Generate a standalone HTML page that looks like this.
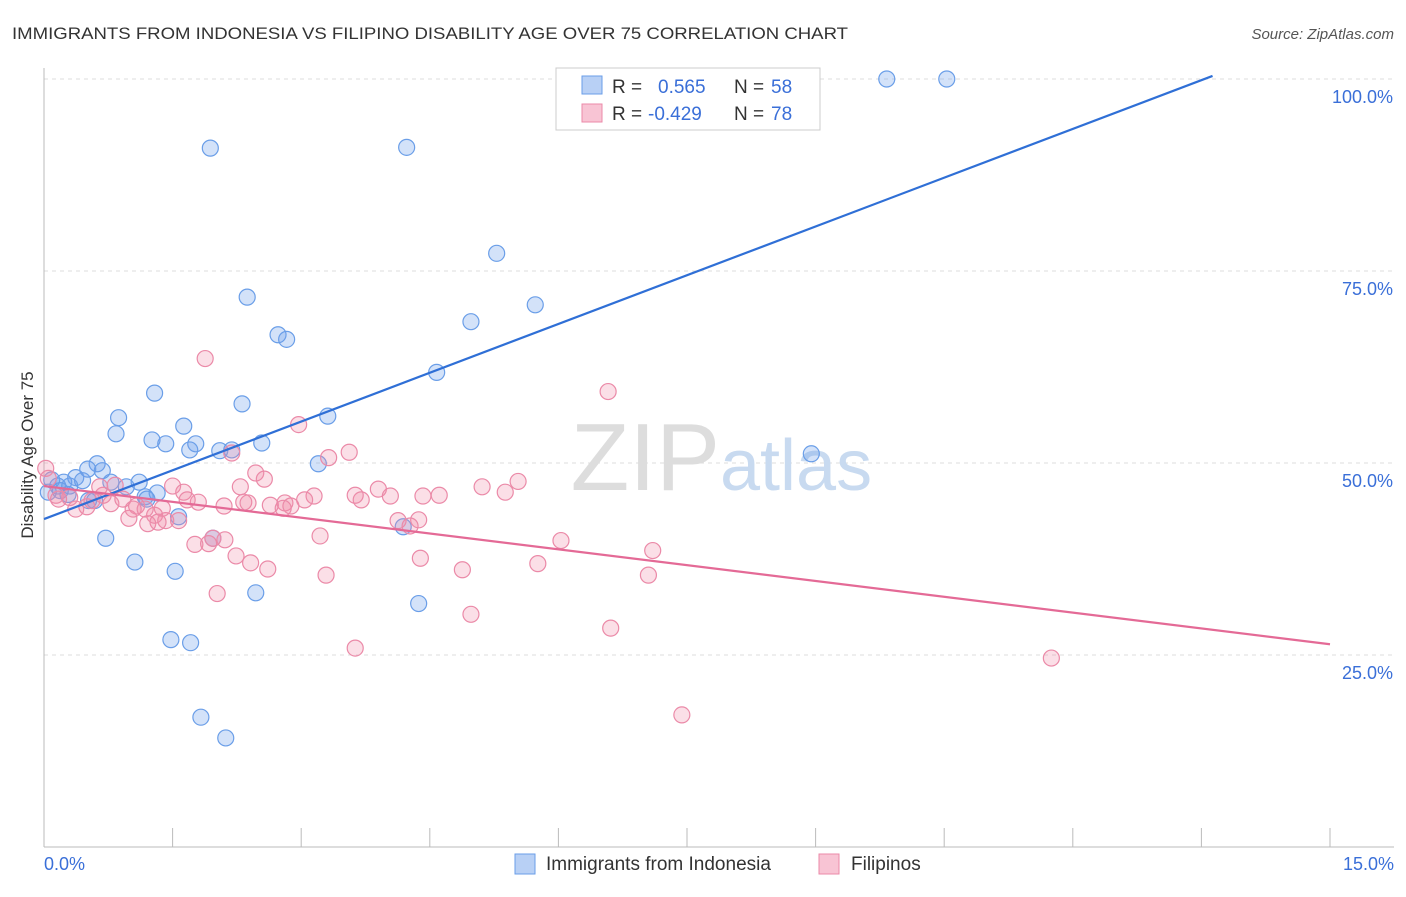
<!DOCTYPE html>
<html><head><meta charset="utf-8"><style>
body{margin:0;background:#fff;font-family:"Liberation Sans",sans-serif;}
svg text{font-family:"Liberation Sans",sans-serif;}
</style></head><body>
<svg id="chart" width="1406" height="892">
<text x="12" y="39" font-size="17" fill="#333" textLength="836" lengthAdjust="spacingAndGlyphs">IMMIGRANTS FROM INDONESIA VS FILIPINO DISABILITY AGE OVER 75 CORRELATION CHART</text>
<text x="1394" y="39" font-size="15" fill="#555" font-style="italic" text-anchor="end">Source: ZipAtlas.com</text>
<g id="grid"></g>
<text x="720" y="490" font-size="96" fill="#ddd" text-anchor="end" font-family="Liberation Serif">ZIP</text>
<text x="720" y="490" font-size="72" fill="#c8daf0">atlas</text>
<g id="axes"></g>
<g id="pts"></g>
<g id="lines"></g>
<text transform="translate(33,455) rotate(-90)" font-size="17" fill="#333" text-anchor="middle">Disability Age Over 75</text>
<text x="44" y="870" font-size="18" fill="#3a6fd8">0.0%</text>
<text x="1394" y="870" font-size="18" fill="#3a6fd8" text-anchor="end">15.0%</text>
<g>
<rect x="556" y="68" width="264" height="62" fill="#fff" stroke="#ccc"/>
<rect x="582" y="76" width="20" height="18" fill="#b8d0f5" stroke="#6a9ee8"/>
<rect x="582" y="104" width="20" height="18" fill="#f8c4d4" stroke="#eb8aa8"/>
<text x="612" y="93" font-size="19" fill="#333">R =</text>
<text x="658" y="93" font-size="19" fill="#3a6fd8">0.565</text>
<text x="734" y="93" font-size="19" fill="#333">N =</text>
<text x="771" y="93" font-size="19" fill="#3a6fd8">58</text>
<text x="612" y="120" font-size="19" fill="#333">R =</text>
<text x="648" y="120" font-size="19" fill="#3a6fd8">-0.429</text>
<text x="734" y="120" font-size="19" fill="#333">N =</text>
<text x="771" y="120" font-size="19" fill="#3a6fd8">78</text>
</g>
<g>
<rect x="515" y="854" width="20" height="20" fill="#b8d0f5" stroke="#6a9ee8"/>
<text x="546" y="870" font-size="19" fill="#333">Immigrants from Indonesia</text>
<rect x="819" y="854" width="20" height="20" fill="#f8c4d4" stroke="#eb8aa8"/>
<text x="851" y="870" font-size="19" fill="#333">Filipinos</text>
</g>
</svg>
<script>
const yTicks=[25,50,75,100];
const xTicks=[0,1.5,3,4.5,6,7.5,9,10.5,12,13.5,15];
const blueX=[9.83,10.53,1.94,4.23,5.28,2.37,4.98,5.73,2.73,2.83,4.58,1.29,0.87,0.84,2.31,1.63,1.26,1.42,1.77,1.70,2.05,2.19,2.54,3.31,3.20,8.95,0.62,0.51,0.68,0.37,0.23,0.78,1.11,0.96,0.16,0.09,0.05,0.28,0.52,1.18,1.32,1.57,4.19,0.72,1.97,1.06,1.53,2.47,4.37,1.48,1.71,1.83,2.12,0.59,0.19,0.30,0.45,1.20];
const blueY=[100,100,91.0,91.1,77.3,71.6,68.4,70.6,66.7,66.1,61.8,59.1,55.9,53.8,57.7,54.8,53.0,52.5,52.5,51.7,51.6,51.7,52.6,56.1,49.9,51.2,49.9,49.2,49.0,48.1,47.5,47.5,47.5,46.9,47.0,47.8,46.2,45.9,45.1,45.6,46.1,43.0,41.7,40.2,40.2,37.1,35.9,33.1,31.7,27.0,26.6,16.9,14.2,45.1,46.4,47.0,47.7,45.3];
const pinkX=[1.88,6.58,2.97,3.56,3.32,2.19,2.47,2.57,2.29,5.53,5.11,5.38,3.90,4.04,4.42,4.61,3.15,3.04,3.70,2.81,2.64,2.88,2.33,2.10,1.63,1.50,1.80,1.67,1.38,1.29,1.42,1.57,1.21,0.99,1.08,0.78,0.69,0.92,0.50,0.37,0.30,0.14,0.05,0.02,0.65,0.83,4.37,4.27,3.22,6.03,7.10,1.76,1.97,1.92,2.24,2.41,2.61,4.39,4.88,5.76,7.05,3.29,2.02,4.98,6.61,3.63,11.75,7.44,0.17,0.56,1.04,1.18,1.33,2.38,2.79,3.63,4.13,2.11];
const pinkY=[63.6,59.3,55.0,51.4,50.7,51.3,48.7,47.9,46.9,47.6,46.9,46.2,46.6,45.7,45.7,45.8,45.7,45.2,45.2,44.8,44.5,44.4,44.9,44.4,46.2,47.0,44.9,45.2,44.1,43.2,42.5,42.5,42.1,42.8,44.4,44.7,45.8,45.3,44.3,44.0,45.5,45.8,48.0,49.3,46.9,47.1,42.6,41.8,40.5,39.9,38.6,39.4,40.2,39.5,37.9,37.0,36.2,37.6,36.1,36.9,35.4,35.4,33.0,30.3,28.5,25.9,24.6,17.2,45.3,45.1,44.0,44.0,42.3,44.8,44.1,45.8,42.5,40.0];
const blueLine=[42.7,100.4];
const blueLineX=[0,13.63];
const pinkLine=[47.0,26.4];
const pinkLineX=[0,15];
const NS='http://www.w3.org/2000/svg';
const sx=v=>44+v/15*1286, sy=v=>847-v*7.68;
function mk(t,a,p){const e=document.createElementNS(NS,t);for(const k in a)e.setAttribute(k,a[k]);p.appendChild(e);return e;}
const grid=document.getElementById('grid'),axes=document.getElementById('axes');
yTicks.forEach(t=>{
 const l=mk('line',{x1:44,x2:1394,y1:sy(t),y2:sy(t),stroke:'#ddd','stroke-dasharray':'4,4'},grid);
 
 
 const tx=mk('text',{x:1393,y:sy(t)+24,'font-size':18,fill:'#3a6fd8','text-anchor':'end'},grid);
 tx.textContent=t.toFixed(1)+'%';
 
 
});
const ya=mk('line',{x1:44,x2:44,y1:68,y2:847,stroke:'#bbb'},axes);


const xa=mk('line',{x1:44,x2:1394,y1:847,y2:847,stroke:'#bbb'},axes);


xTicks.forEach(t=>{const l=mk('line',{x1:sx(t),x2:sx(t),y1:828,y2:847,stroke:'#bbb'},axes);
 
 });
const pts=document.getElementById('pts');
blueX.forEach((x,i)=>{const c=mk('circle',{cx:sx(x),cy:sy(blueY[i]),r:8,fill:'rgba(110,160,235,0.3)',stroke:'#6a9ee8','stroke-width':1.2},pts);
 
 });
pinkX.forEach((x,i)=>{const c=mk('circle',{cx:sx(x),cy:sy(pinkY[i]),r:8,fill:'rgba(240,140,170,0.28)',stroke:'#eb8aa8','stroke-width':1.2},pts);
 
 });
const lines=document.getElementById('lines');
const bl=mk('line',{x1:sx(blueLineX[0]),y1:sy(blueLine[0]),x2:sx(blueLineX[1]),y2:sy(blueLine[1]),stroke:'#2f6fd6','stroke-width':2.2},lines);


const pl=mk('line',{x1:sx(pinkLineX[0]),y1:sy(pinkLine[0]),x2:sx(pinkLineX[1]),y2:sy(pinkLine[1]),stroke:'#e46a96','stroke-width':2.2},lines);


</script>
</body></html>
